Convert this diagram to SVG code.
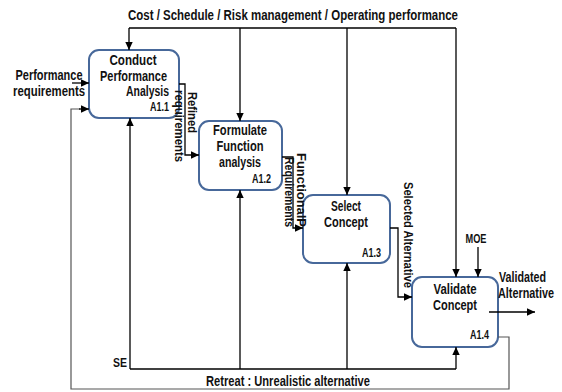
<svg xmlns="http://www.w3.org/2000/svg" width="562" height="392" viewBox="0 0 562 392">
<defs>
<marker id="ah" markerUnits="userSpaceOnUse" markerWidth="8" markerHeight="8" viewBox="0 0 8 8" refX="8" refY="4" orient="auto">
<path d="M0,0.3 L8,4 L0,7.7 z" fill="#000"/>
</marker>
<style>
.box{fill:#fff;stroke:#47689a;stroke-width:2}
.t{font-family:"Liberation Sans",Arial,sans-serif;font-weight:bold;font-size:14px;fill:#111}
.s{font-family:"Liberation Sans",Arial,sans-serif;font-weight:bold;font-size:12px;fill:#111}
.c{text-anchor:middle}
.r{text-anchor:end}
.ln{fill:none;stroke:#000;stroke-width:1.3}
.ar{fill:none;stroke:#000;stroke-width:1.3;marker-end:url(#ah)}
.gr{fill:none;stroke:#555;stroke-width:1.2}
</style>
</defs>
<rect width="562" height="392" fill="#fff"/>
<text class="t c" x="293" y="20" textLength="330" lengthAdjust="spacingAndGlyphs">Cost / Schedule / Risk management / Operating performance</text>
<text class="t c" x="49" y="80" textLength="67" lengthAdjust="spacingAndGlyphs">Performance</text>
<text class="t c" x="49" y="96" textLength="72" lengthAdjust="spacingAndGlyphs">requirements</text>
<g id="A1.1">
<rect class="box" x="89" y="50" width="90" height="68" rx="10"/>
<text class="t c" x="133" y="65" textLength="47" lengthAdjust="spacingAndGlyphs">Conduct</text>
<text class="t c" x="133.5" y="81" textLength="67" lengthAdjust="spacingAndGlyphs">Performance</text>
<text class="t r" x="169" y="96" textLength="43" lengthAdjust="spacingAndGlyphs">Analysis</text>
<text class="s r" x="169" y="111" textLength="19" lengthAdjust="spacingAndGlyphs">A1.1</text>
</g>
<g id="A1.2">
<rect class="box" x="199" y="121" width="83" height="69" rx="10"/>
<text class="t c" x="240" y="135" textLength="54" lengthAdjust="spacingAndGlyphs">Formulate</text>
<text class="t c" x="240" y="151" textLength="47" lengthAdjust="spacingAndGlyphs">Function</text>
<text class="t c" x="240" y="167" textLength="42" lengthAdjust="spacingAndGlyphs">analysis</text>
<text class="s r" x="271" y="183" textLength="19" lengthAdjust="spacingAndGlyphs">A1.2</text>
</g>
<g id="A1.3">
<rect class="box" x="303" y="195" width="87" height="68" rx="10"/>
<text class="t c" x="346" y="211" textLength="30" lengthAdjust="spacingAndGlyphs">Select</text>
<text class="t c" x="346" y="227" textLength="44" lengthAdjust="spacingAndGlyphs">Concept</text>
<text class="s r" x="381" y="257" textLength="19" lengthAdjust="spacingAndGlyphs">A1.3</text>
</g>
<g id="A1.4">
<rect class="box" x="412" y="277" width="86" height="70" rx="10"/>
<text class="t c" x="455" y="294" textLength="43" lengthAdjust="spacingAndGlyphs">Validate</text>
<text class="t c" x="455" y="310" textLength="44" lengthAdjust="spacingAndGlyphs">Concept</text>
<text class="s r" x="489" y="339" textLength="19" lengthAdjust="spacingAndGlyphs">A1.4</text>
</g>
<g id="connectors">
<path class="ln" d="M129,28 H456"/>
<path class="ar" d="M129,28 V50"/>
<path class="ar" d="M240,28 V121"/>
<path class="ar" d="M347,28 V195"/>
<path class="ar" d="M456,28 V277"/>
<path class="ar" d="M72,83 H89"/>
<path class="ar" d="M179,84 H185 V155 H199"/>
<path class="ar" d="M282,157 H293 V228 H303"/>
<path class="ar" d="M390,228 H398 V297 H412"/>
<path class="ar" d="M478,247 V277"/>
<path class="ar" d="M489,312 H535"/>
<path class="ln" d="M130,369 H456"/>
<path class="ar" d="M130,369 V118"/>
<path class="ar" d="M240,369 V190"/>
<path class="ar" d="M347,369 V263"/>
<path class="ar" d="M456,369 V347"/>
<path class="gr" d="M498,337 H509 V389 H71 V109 H80"/>
<path class="ar" d="M79,109 H89"/>
</g>
<text class="s" transform="translate(187.5,92) rotate(90)" textLength="41" lengthAdjust="spacingAndGlyphs">Refined</text>
<text class="s" transform="translate(175,90) rotate(90)" textLength="72" lengthAdjust="spacingAndGlyphs">requirements</text>
<text class="s" transform="translate(296.5,153) rotate(90)" textLength="74" lengthAdjust="spacingAndGlyphs">FunctionalP</text>
<text class="s" transform="translate(285,157) rotate(90)" textLength="70" lengthAdjust="spacingAndGlyphs">Requirements</text>
<text class="s" transform="translate(403.5,182) rotate(90)" textLength="106" lengthAdjust="spacingAndGlyphs">Selected Alternative</text>
<text class="s c" x="476" y="243" textLength="21" lengthAdjust="spacingAndGlyphs">MOE</text>
<text class="t" x="499" y="282" textLength="47" lengthAdjust="spacingAndGlyphs">Validated</text>
<text class="t" x="498" y="298" textLength="56" lengthAdjust="spacingAndGlyphs">Alternative</text>
<text class="s r" x="127" y="367" textLength="14" lengthAdjust="spacingAndGlyphs">SE</text>
<text class="t" x="206" y="386" textLength="164" lengthAdjust="spacingAndGlyphs">Retreat : Unrealistic alternative</text>
</svg>
